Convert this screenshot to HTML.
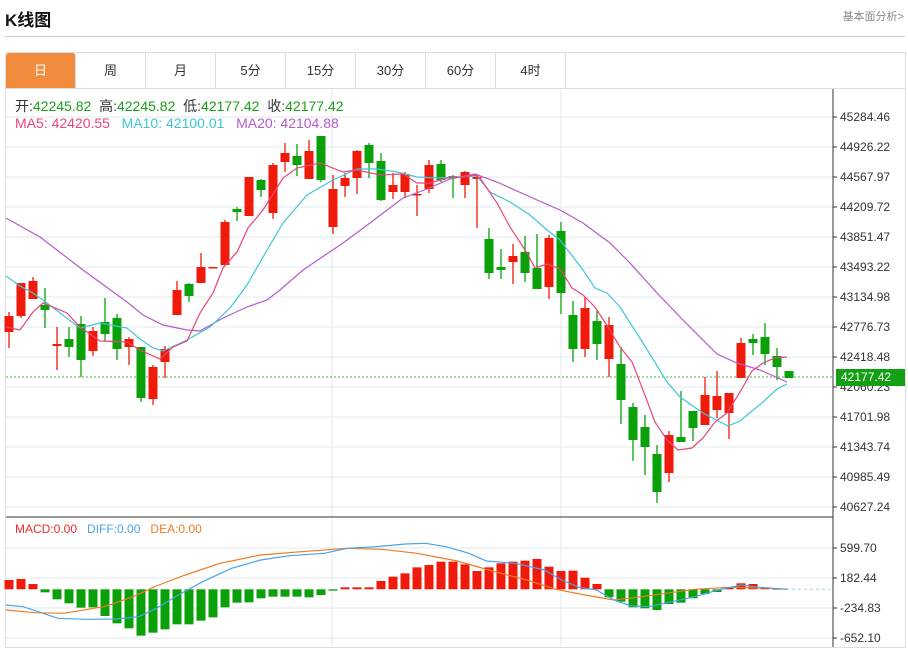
<!DOCTYPE html>
<html><head><meta charset="utf-8"><style>
*{margin:0;padding:0;box-sizing:border-box}
body{width:908px;height:648px;background:#fff;font-family:"Liberation Sans","Noto Sans CJK SC",sans-serif;position:relative;overflow:hidden}
.t{position:absolute;white-space:nowrap}
.tab{position:absolute;top:53px;height:35px;width:70px;border-right:1px solid #ddd;text-align:center;line-height:35px;font-size:13px;color:#333}
</style></head><body>
<div class="t" style="left:5px;top:6px;font-size:17px;font-weight:bold;color:#111">K线图</div>
<div class="t" style="right:4px;top:8px;font-size:11px;color:#888">基本面分析&gt;</div>
<div style="position:absolute;left:5px;top:36px;width:900px;height:1px;background:#ccc"></div>
<div style="position:absolute;left:5px;top:52px;width:901px;height:596px;border:1px solid #ddd"></div>
<div style="position:absolute;left:6px;top:88px;width:899px;height:1px;background:#ddd"></div>
<div class="tab" style="left:6px;background:#f28c3c;color:#fff;border-radius:3px 3px 0 0">日</div>
<div class="tab" style="left:76px">周</div>
<div class="tab" style="left:146px">月</div>
<div class="tab" style="left:216px">5分</div>
<div class="tab" style="left:286px">15分</div>
<div class="tab" style="left:356px">30分</div>
<div class="tab" style="left:426px">60分</div>
<div class="tab" style="left:496px">4时</div>
<svg id="s" width="908" height="648" style="position:absolute;left:0;top:0"></svg>
<div class="t" style="left:15px;top:96px;font-size:14px;color:#333">开:<span style="color:#1a9e1a">42245.82</span>&nbsp; 高:<span style="color:#1a9e1a">42245.82</span>&nbsp; 低:<span style="color:#1a9e1a">42177.42</span>&nbsp; 收:<span style="color:#1a9e1a">42177.42</span></div>
<div class="t" style="left:15px;top:115px;font-size:14px"><span style="color:#e8457a">MA5: 42420.55</span>&nbsp;&nbsp; <span style="color:#3ec6d8">MA10: 42100.01</span>&nbsp;&nbsp; <span style="color:#b45bc8">MA20: 42104.88</span></div>
<div class="t" style="left:15px;top:522px;font-size:12px"><span style="color:#ee2a2a">MACD:0.00</span>&nbsp;&nbsp; <span style="color:#4aa3e8">DIFF:0.00</span>&nbsp;&nbsp; <span style="color:#f07a22">DEA:0.00</span></div>
<div id="ax"></div>
<div class="t" style="left:836px;top:369px;width:69px;height:17px;background:#14a014;color:#fff;font-size:12px;line-height:17px;padding-left:5px">42177.42</div>
<script>
const s=document.getElementById('s');const NS='http://www.w3.org/2000/svg';
function el(n,a){const e=document.createElementNS(NS,n);for(const k in a)e.setAttribute(k,a[k]);s.appendChild(e);return e}
const ax=document.getElementById('ax');
const pl=["45284.46","44926.22","44567.97","44209.72","43851.47","43493.22","43134.98","42776.73","42418.48","42060.23","41701.98","41343.74","40985.49","40627.24"];
pl.forEach((v,i)=>{const y=117+30*i;el('line',{x1:6,x2:833,y1:y,y2:y,stroke:'#e3e9ef'});el('line',{x1:833,x2:837,y1:y,y2:y,stroke:'#333'});ax.insertAdjacentHTML('beforeend',`<div class="t" style="left:840px;top:${y-7}px;font-size:12px;color:#333">${v}</div>`)});
[["599.70",548],["182.44",578],["-234.83",608],["-652.10",638]].forEach(([v,y])=>{el('line',{x1:6,x2:833,y1:y,y2:y,stroke:'#e3e9ef'});el('line',{x1:833,x2:837,y1:y,y2:y,stroke:'#333'});ax.insertAdjacentHTML('beforeend',`<div class="t" style="left:840px;top:${y-7}px;font-size:12px;color:#333">${v}</div>`)});
[332,561].forEach(x=>el('line',{x1:x,x2:x,y1:89,y2:647,stroke:'#e3e9ef'}));
el('line',{x1:6,x2:833,y1:517,y2:517,stroke:'#333'});
el('line',{x1:833,x2:833,y1:89,y2:647,stroke:'#333'});
el('line',{x1:6,x2:833,y1:377,y2:377,stroke:'#3cb83c','stroke-dasharray':'2,2'});
const C=[[316,332,312,348,1],[283,316,283,318,1],[281,299,277,299,1],[305,310,288,328,0],[344,346,327,370,1],[339,347,327,357,0],[324,360,316,377,0],[331,351,327,356,1],[322,334,298,341,0],[318,349,314,360,0],[339,347,337,365,1],[347,398,347,402,0],[367,399,365,405,1],[349,362,346,378,1],[290,315,281,315,1],[284,296,283,302,0],[267,283,253,283,1],[267,268,267,268,1],[222,265,220,265,1],[209,212,207,221,0],[177,216,177,216,1],[180,190,179,197,0],[165,213,163,219,1],[153,162,143,172,1],[156,165,144,176,0],[151,179,140,179,1],[136,180,136,182,0],[189,227,175,234,1],[178,186,173,197,1],[151,178,150,194,1],[145,163,143,178,0],[161,200,153,201,0],[185,192,173,199,1],[174,192,172,198,1],[194,195,185,216,1],[165,189,160,193,1],[164,180,160,182,0],[176,178,175,198,0],[172,185,171,198,1],[177,179,174,228,1],[239,273,228,279,0],[267,270,249,279,0],[256,262,244,284,1],[252,273,236,282,0],[268,289,234,289,0],[238,287,235,299,1],[231,293,222,314,0],[315,349,301,362,0],[308,349,297,357,1],[321,344,311,360,0],[325,359,317,377,1],[364,400,347,424,0],[407,440,403,461,0],[427,447,415,475,0],[454,492,445,503,0],[435,473,431,482,1],[437,442,391,442,0],[411,428,411,441,0],[395,425,377,425,1],[396,410,371,418,1],[393,413,393,439,1],[343,378,338,378,1],[339,343,334,355,0],[337,354,323,365,0],[356,367,348,380,0],[371,378,371,378,0]];
C.forEach((c,i)=>{const x=9+12*i;const col=c[4]?'#f01a0a':'#0aa00a';el('line',{x1:x,x2:x,y1:c[2],y2:c[3],stroke:col,'stroke-width':1.3});el('rect',{x:x-4.5,y:c[0],width:9,height:Math.max(1.5,c[1]-c[0]),fill:col})});
function line(p,col){el('polyline',{points:p.map(q=>q.join(',')).join(' '),fill:'none',stroke:col,'stroke-width':1.2})}
line([[6,218],[40,237],[83,270],[127,302],[143,315],[163,325],[187,330],[200,331],[223,318],[247,307],[267,300],[280,290],[303,270],[343,243],[370,223],[403,198],[427,189],[450,179],[475,174],[497,182],[537,200],[560,210],[583,223],[610,243],[630,263],[657,293],[683,320],[717,354],[737,363],[760,370],[787,382]],'#b45bc8');
line([[6,276],[20,286],[33,293],[47,303],[60,313],[80,328],[100,323],[127,328],[140,339],[153,348],[163,351],[187,340],[210,327],[230,308],[247,285],[263,257],[283,223],[307,195],[333,180],[357,169],[377,169],[397,172],[417,177],[437,178],[457,177],[477,176],[490,192],[510,202],[530,215],[547,230],[560,240],[583,270],[595,288],[607,293],[620,307],[643,343],[667,382],[680,397],[703,413],[728,426],[740,421],[763,402],[777,389],[787,384]],'#3ec6d8');
line([[6,327],[20,330],[33,312],[43,303],[67,313],[80,327],[100,341],[127,342],[140,350],[160,359],[173,347],[187,341],[200,313],[213,293],[223,268],[237,252],[248,228],[263,210],[283,178],[297,168],[320,163],[343,172],[357,170],[380,175],[403,174],[417,183],[430,183],[447,178],[463,177],[475,175],[480,178],[497,203],[510,227],[527,253],[535,268],[547,264],[560,269],[572,288],[583,295],[595,307],[608,327],[620,347],[632,362],[643,390],[655,422],[667,440],[678,450],[692,448],[703,438],[715,422],[727,413],[740,392],[752,371],[763,363],[775,358],[787,357]],'#e8457a');
const Z=589.3;
const H=[240,237,252,277,298,310,323,322,348,370,385,407,398,388,373,373,362,352,322,308,307,295,290,290,290,292,285,272,262,262,262,243,230,220,202,195,185,185,193,213,202,190,185,182,177,200,213,212,233,252,292,305,322,325,330,312,308,295,282,276,262,250,252,262,266];
H.forEach((v,i)=>{const x=9+12*i;const y=500+v/3;const col=y<Z?'#f01a0a':'#0aa00a';el('rect',{x:x-4.5,y:Math.min(y,Z),width:9,height:Math.max(1,Math.abs(y-Z)),fill:col})});
el('line',{x1:780,x2:830,y1:Z,y2:Z,stroke:'#9fd8e8','stroke-dasharray':'3,3'});
const cv=p=>p.map(q=>[q[0]/1.727,500+q[1]/3]);
line(cv([[10,330],[60,338],[110,340],[180,320],[230,290],[270,258],[320,225],[380,190],[450,165],[520,155],[600,145],[660,148],[720,160],[790,183],[850,213],[910,240],[960,268],[1010,285],[1060,300],[1100,292],[1150,280],[1200,268],[1260,262],[1320,264],[1360,268]]),'#f07a22');
line(cv([[10,315],[40,320],[100,355],[150,358],[200,357],[240,350],[270,325],[310,283],[350,245],[400,205],[450,180],[500,167],[560,160],[600,145],[650,140],[700,132],[735,130],[770,140],[810,160],[840,183],[890,190],[940,210],[970,240],[1000,262],[1030,270],[1060,300],[1090,318],[1120,320],[1160,305],[1200,290],[1240,270],[1280,255],[1310,262],[1360,268]]),'#4aa3e8');
</script>
</body></html>
